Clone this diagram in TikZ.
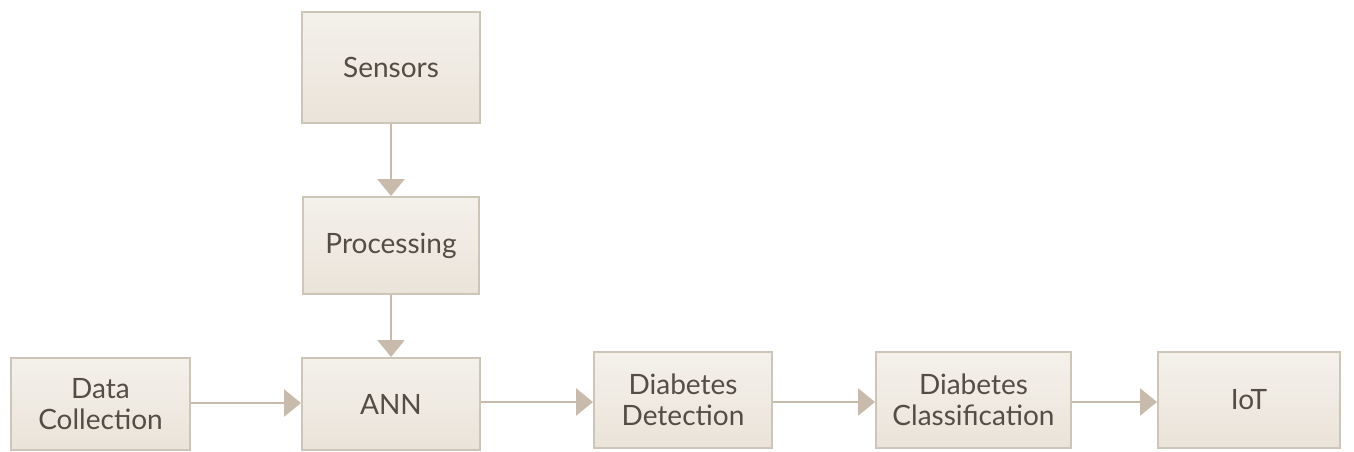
\documentclass[tikz,border=0pt]{standalone}
\usepackage{fontspec}
\setmainfont{Lato}
\usetikzlibrary{arrows.meta}
\definecolor{boxtop}{HTML}{F4F1EB}
\definecolor{boxbot}{HTML}{EAE3D9}
\definecolor{boxline}{HTML}{CEC5B9}
\definecolor{arrowc}{HTML}{C9BBAB}
\definecolor{txt}{HTML}{544D45}
\tikzset{
  blk/.style={draw=boxline, line width=2pt, top color=boxtop, bottom color=boxbot,
    text=txt, align=center, inner sep=0pt, font=\fontsize{28}{31}\selectfont},
  conn/.style={draw=arrowc, line width=2.5pt, -{Triangle[length=17pt,width=27pt]}}
}
\begin{document}
\begin{tikzpicture}[x=1pt,y=-1pt]
\useasboundingbox (0,0) rectangle (1354,452);
\fill[white] (0,0) rectangle (1354,452);
\node[blk, minimum width=178pt, minimum height=111pt] (sens) at (391,67.5) {Sensors};
\node[blk, minimum width=176pt, minimum height=97pt] (proc) at (391,245.5) {Processing};
\node[blk, minimum width=178pt, minimum height=92pt] (ann) at (391,404) {ANN};
\node[blk, minimum width=179pt, minimum height=92pt] (data) at (100.5,404) {Data\\Collection};
\node[blk, minimum width=178pt, minimum height=96pt] (det) at (683,400) {Diabetes\\Detection};
\node[blk, minimum width=195pt, minimum height=96pt] (cls) at (973.5,400) {Diabetes\\Classification};
\node[blk, minimum width=182pt, minimum height=96pt] (iot) at (1249,400) {IoT};
\draw[conn] (sens) -- (proc);
\draw[conn] (proc) -- (ann);
\draw[conn] (data.east |- 0,403) -- (ann.west |- 0,403);
\draw[conn] (ann.east |- 0,402) -- (det.west |- 0,402);
\draw[conn] (det.east |- 0,402) -- (cls.west |- 0,402);
\draw[conn] (cls.east |- 0,402) -- (iot.west |- 0,402);
\end{tikzpicture}
\end{document}
